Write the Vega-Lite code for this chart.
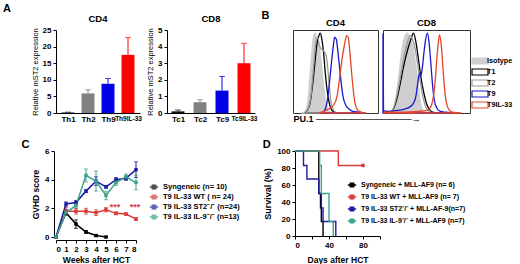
{
 "$schema": "https://vega.github.io/schema/vega-lite/v6.json",
 "padding": {"left": 3, "top": 3, "right": 0, "bottom": 0},
 "config": {
  "font": "Liberation Sans",
  "view": {"stroke": null},
  "axis": {"labelFontWeight": "bold", "titleFontWeight": "bold", "labelColor": "#000", "titleColor": "#000", "domainColor": "#000", "tickColor": "#000", "grid": false, "labelFontSize": 8, "titleFontSize": 8, "tickSize": 3, "labelPadding": 2},
  "title": {"fontSize": 9.5, "fontWeight": "bold", "color": "#000", "offset": 3},
  "legend": {"labelFontWeight": "bold", "labelFontSize": 7.5, "labelColor": "#000"}
 },
 "resolve": {"scale": {"color": "independent"}},
 "spacing": 15,
 "vconcat": [
  {
   "title": {"text": "A", "anchor": "start", "fontSize": 11, "dx": -28, "offset": -4},
   "resolve": {"scale": {"color": "independent"}},
   "spacing": 4,
   "hconcat": [
    {
     "title": "CD4",
     "width": 84, "height": 83,
     "data": {"values": [
      {"cell": "Th1", "v": 0.15, "hi": 0.25},
      {"cell": "Th2", "v": 5.9, "hi": 7.0},
      {"cell": "Th9", "v": 8.8, "hi": 10.4},
      {"cell": "Th9IL-33", "v": 17.5, "hi": 22.7}
     ]},
     "encoding": {
      "x": {"field": "cell", "type": "nominal", "sort": null, "scale": {"type": "point", "padding": 0.6}, "axis": {"title": null, "labelAngle": 0, "ticks": false, "labelOverlap": false, "labelFontSize": {"condition": {"test": "datum.value === 'Th9IL-33'", "value": 6.5}, "value": 8}}},
      "y": {"field": "v", "type": "quantitative", "stack": null, "title": "Relative mST2 expression", "scale": {"domain": [0, 25]}, "axis": {"values": [0, 5, 10, 15, 20, 25], "labelOverlap": false, "titleFontWeight": "normal", "titleFontSize": 7.5, "titlePadding": 3}},
      "color": {"field": "cell", "type": "nominal", "scale": {"domain": ["Th1", "Th2", "Th9", "Th9IL-33"], "range": ["#111111", "#808080", "#0000e6", "#ff0000"]}, "legend": null}
     },
     "layer": [
      {"mark": {"type": "bar", "size": 13}},
      {"mark": "rule", "encoding": {"y2": {"field": "hi"}}},
      {"mark": {"type": "tick", "orient": "horizontal", "size": 6, "thickness": 1}, "encoding": {"y": {"field": "hi", "type": "quantitative", "stack": null, "title": "Relative mST2 expression", "axis": {"values": [0, 5, 10, 15, 20, 25], "labelOverlap": false, "titleFontWeight": "normal", "titleFontSize": 7.5, "titlePadding": 3}}}}
     ]
    },
    {
     "title": "CD8",
     "width": 88, "height": 83,
     "data": {"values": [
      {"cell": "Tc1", "v": 0.1, "hi": 0.18},
      {"cell": "Tc2", "v": 0.65, "hi": 0.8},
      {"cell": "Tc9", "v": 1.35, "hi": 2.2},
      {"cell": "Tc9IL-33", "v": 3.0, "hi": 4.2}
     ]},
     "encoding": {
      "x": {"field": "cell", "type": "nominal", "sort": null, "scale": {"type": "point", "padding": 0.5}, "axis": {"title": null, "labelAngle": 0, "ticks": false, "labelOverlap": false, "labelFontSize": {"condition": {"test": "datum.value === 'Tc9IL-33'", "value": 6.5}, "value": 8}}},
      "y": {"field": "v", "type": "quantitative", "stack": null, "title": "Relative mST2 expression", "scale": {"domain": [0, 5]}, "axis": {"values": [0, 1, 2, 3, 4, 5], "labelOverlap": false, "titleFontWeight": "normal", "titleFontSize": 7.5, "titlePadding": 3}},
      "color": {"field": "cell", "type": "nominal", "scale": {"domain": ["Tc1", "Tc2", "Tc9", "Tc9IL-33"], "range": ["#111111", "#808080", "#0000e6", "#ff0000"]}, "legend": null}
     },
     "layer": [
      {"mark": {"type": "bar", "size": 13}},
      {"mark": "rule", "encoding": {"y2": {"field": "hi"}}},
      {"mark": {"type": "tick", "orient": "horizontal", "size": 6, "thickness": 1}, "encoding": {"y": {"field": "hi", "type": "quantitative", "stack": null, "title": "Relative mST2 expression", "axis": {"values": [0, 1, 2, 3, 4, 5], "labelOverlap": false, "titleFontWeight": "normal", "titleFontSize": 7.5, "titlePadding": 3}}}}
     ]
    },
    {
     "title": {"text": "B", "anchor": "start", "fontSize": 11, "dx": -31, "offset": -4},
     "bounds": "flush",
     "spacing": 5,
     "hconcat": [
      {
       "title": "CD4",
       "width": 85, "height": 83,
       "view": {"stroke": "#333", "strokeWidth": 1},
       "data": {"values": [
        {"s":"Isotype","x":10,"y":0},{"s":"Isotype","x":15,"y":3},{"s":"Isotype","x":18,"y":20},{"s":"Isotype","x":21,"y":60},{"s":"Isotype","x":24,"y":95},{"s":"Isotype","x":26,"y":100},{"s":"Isotype","x":28,"y":92},{"s":"Isotype","x":30,"y":85},{"s":"Isotype","x":32,"y":75},{"s":"Isotype","x":34,"y":55},{"s":"Isotype","x":36,"y":35},{"s":"Isotype","x":38,"y":18},{"s":"Isotype","x":40,"y":8},{"s":"Isotype","x":43,"y":2},{"s":"Isotype","x":48,"y":0},
        {"s":"T1","x":14,"y":0},{"s":"T1","x":17,"y":3},{"s":"T1","x":20,"y":12},{"s":"T1","x":23,"y":35},{"s":"T1","x":26,"y":65},{"s":"T1","x":28,"y":85},{"s":"T1","x":30,"y":95},{"s":"T1","x":32,"y":100},{"s":"T1","x":34,"y":92},{"s":"T1","x":36,"y":75},{"s":"T1","x":38,"y":50},{"s":"T1","x":40,"y":30},{"s":"T1","x":42,"y":16},{"s":"T1","x":44,"y":7},{"s":"T1","x":47,"y":2},{"s":"T1","x":52,"y":0},
        {"s":"T2","x":15,"y":0},{"s":"T2","x":18,"y":5},{"s":"T2","x":21,"y":20},{"s":"T2","x":24,"y":55},{"s":"T2","x":27,"y":90},{"s":"T2","x":29,"y":95},{"s":"T2","x":31,"y":85},{"s":"T2","x":33,"y":80},{"s":"T2","x":36,"y":78},{"s":"T2","x":39,"y":72},{"s":"T2","x":41,"y":55},{"s":"T2","x":43,"y":30},{"s":"T2","x":45,"y":12},{"s":"T2","x":48,"y":3},{"s":"T2","x":52,"y":0},
        {"s":"T9","x":34,"y":0},{"s":"T9","x":38,"y":5},{"s":"T9","x":41,"y":20},{"s":"T9","x":44,"y":50},{"s":"T9","x":47,"y":80},{"s":"T9","x":49,"y":95},{"s":"T9","x":51,"y":92},{"s":"T9","x":53,"y":75},{"s":"T9","x":55,"y":55},{"s":"T9","x":57,"y":35},{"s":"T9","x":59,"y":20},{"s":"T9","x":62,"y":10},{"s":"T9","x":66,"y":5},{"s":"T9","x":70,"y":2},{"s":"T9","x":78,"y":1},{"s":"T9","x":85,"y":0},
        {"s":"T9IL-33","x":30,"y":0},{"s":"T9IL-33","x":36,"y":2},{"s":"T9IL-33","x":42,"y":5},{"s":"T9IL-33","x":48,"y":10},{"s":"T9IL-33","x":52,"y":22},{"s":"T9IL-33","x":55,"y":45},{"s":"T9IL-33","x":58,"y":70},{"s":"T9IL-33","x":61,"y":88},{"s":"T9IL-33","x":63,"y":97},{"s":"T9IL-33","x":65,"y":95},{"s":"T9IL-33","x":67,"y":75},{"s":"T9IL-33","x":69,"y":50},{"s":"T9IL-33","x":71,"y":28},{"s":"T9IL-33","x":73,"y":12},{"s":"T9IL-33","x":76,"y":4},{"s":"T9IL-33","x":80,"y":1},{"s":"T9IL-33","x":86,"y":0}
       ]},
       "mark": {"type": "area", "interpolate": "monotone", "strokeWidth": 1.3, "fillOpacity": 1},
       "encoding": {
        "x": {"field": "x", "type": "quantitative", "scale": {"domain": [0, 100], "nice": false}, "axis": {"title": "PU.1 ───────────────→", "titleAnchor": "start", "labels": false, "ticks": false, "domain": false, "titlePadding": 1, "titleFontSize": 9}},
        "y": {"field": "y", "type": "quantitative", "stack": null, "scale": {"domain": [0, 104], "nice": false}, "axis": null},
        "fill": {"field": "s", "type": "nominal", "scale": {"domain": ["Isotype", "T1", "T2", "T9", "T9IL-33"], "range": ["#cfcfcf", "transparent", "transparent", "transparent", "transparent"]}, "legend": {"title": null, "orient": "none", "legendX": 419, "legendY": 26, "symbolType": "M-2,-0.75H2V0.75H-2Z", "symbolSize": 64, "symbolStrokeWidth": 1.2, "labelFontSize": 7.2, "rowPadding": -2.7, "labelOffset": 2}},
        "stroke": {"field": "s", "type": "nominal", "scale": {"domain": ["Isotype", "T1", "T2", "T9", "T9IL-33"], "range": ["#cfcfcf", "#000000", "#9a9a9a", "#1a1acc", "#e8442a"]}, "legend": {"title": null, "orient": "none", "legendX": 419, "legendY": 26, "symbolType": "M-2,-0.75H2V0.75H-2Z", "symbolSize": 64, "symbolStrokeWidth": 1.2, "labelFontSize": 7.2, "rowPadding": -2.7, "labelOffset": 2}}
       }
      },
      {
       "title": "CD8",
       "width": 87, "height": 83,
       "view": {"stroke": "#333", "strokeWidth": 1},
       "data": {"values": [
        {"s":"Isotype","x":10,"y":0},{"s":"Isotype","x":13,"y":8},{"s":"Isotype","x":16,"y":28},{"s":"Isotype","x":19,"y":55},{"s":"Isotype","x":22,"y":80},{"s":"Isotype","x":25,"y":95},{"s":"Isotype","x":28,"y":100},{"s":"Isotype","x":31,"y":93},{"s":"Isotype","x":34,"y":85},{"s":"Isotype","x":37,"y":65},{"s":"Isotype","x":40,"y":40},{"s":"Isotype","x":42,"y":20},{"s":"Isotype","x":44,"y":8},{"s":"Isotype","x":47,"y":2},{"s":"Isotype","x":52,"y":0},
        {"s":"T1","x":8,"y":0},{"s":"T1","x":12,"y":5},{"s":"T1","x":16,"y":18},{"s":"T1","x":20,"y":38},{"s":"T1","x":24,"y":60},{"s":"T1","x":28,"y":78},{"s":"T1","x":32,"y":92},{"s":"T1","x":35,"y":100},{"s":"T1","x":38,"y":88},{"s":"T1","x":41,"y":65},{"s":"T1","x":44,"y":42},{"s":"T1","x":47,"y":25},{"s":"T1","x":50,"y":12},{"s":"T1","x":53,"y":5},{"s":"T1","x":57,"y":1},{"s":"T1","x":62,"y":0},
        {"s":"T2","x":8,"y":0},{"s":"T2","x":12,"y":6},{"s":"T2","x":16,"y":22},{"s":"T2","x":20,"y":45},{"s":"T2","x":24,"y":70},{"s":"T2","x":28,"y":88},{"s":"T2","x":31,"y":97},{"s":"T2","x":34,"y":92},{"s":"T2","x":37,"y":80},{"s":"T2","x":40,"y":60},{"s":"T2","x":43,"y":38},{"s":"T2","x":46,"y":20},{"s":"T2","x":49,"y":8},{"s":"T2","x":53,"y":2},{"s":"T2","x":58,"y":0},
        {"s":"T9","x":0,"y":100},{"s":"T9","x":0.6,"y":3},{"s":"T9","x":5,"y":2},{"s":"T9","x":15,"y":3},{"s":"T9","x":25,"y":5},{"s":"T9","x":30,"y":7},{"s":"T9","x":35,"y":12},{"s":"T9","x":38,"y":22},{"s":"T9","x":40,"y":38},{"s":"T9","x":42,"y":50},{"s":"T9","x":43.5,"y":47},{"s":"T9","x":45,"y":55},{"s":"T9","x":47,"y":75},{"s":"T9","x":49,"y":92},{"s":"T9","x":51,"y":100},{"s":"T9","x":53,"y":88},{"s":"T9","x":55,"y":62},{"s":"T9","x":57,"y":35},{"s":"T9","x":59,"y":16},{"s":"T9","x":62,"y":6},{"s":"T9","x":66,"y":2},{"s":"T9","x":72,"y":1},{"s":"T9","x":80,"y":0},
        {"s":"T9IL-33","x":1,"y":1},{"s":"T9IL-33","x":20,"y":1},{"s":"T9IL-33","x":40,"y":2},{"s":"T9IL-33","x":50,"y":3},{"s":"T9IL-33","x":54,"y":6},{"s":"T9IL-33","x":57,"y":15},{"s":"T9IL-33","x":60,"y":40},{"s":"T9IL-33","x":62,"y":70},{"s":"T9IL-33","x":64,"y":92},{"s":"T9IL-33","x":65,"y":98},{"s":"T9IL-33","x":67,"y":85},{"s":"T9IL-33","x":69,"y":55},{"s":"T9IL-33","x":71,"y":28},{"s":"T9IL-33","x":73,"y":12},{"s":"T9IL-33","x":76,"y":4},{"s":"T9IL-33","x":80,"y":1},{"s":"T9IL-33","x":90,"y":0}
       ]},
       "mark": {"type": "area", "interpolate": "monotone", "strokeWidth": 1.3, "fillOpacity": 1},
       "encoding": {
        "x": {"field": "x", "type": "quantitative", "scale": {"domain": [0, 100], "nice": false}, "axis": null},
        "y": {"field": "y", "type": "quantitative", "stack": null, "scale": {"domain": [0, 104], "nice": false}, "axis": null},
        "fill": {"field": "s", "type": "nominal"},
        "stroke": {"field": "s", "type": "nominal"}
       }
      }
     ]
    }
   ]
  },
  {
   "resolve": {"scale": {"color": "independent"}},
   "spacing": 22,
   "hconcat": [
    {
     "title": {"text": "C", "anchor": "start", "fontSize": 11, "dx": -10, "offset": -3},
     "width": 80, "height": 86,
     "data": {"values": [
      {"g":"Syngeneic (n= 10)","w":0,"m":0,"lo":0,"hi":0},{"g":"Syngeneic (n= 10)","w":1,"m":1.7,"lo":1.5,"hi":1.9},{"g":"Syngeneic (n= 10)","w":2,"m":0.9,"lo":0.6,"hi":1.2},{"g":"Syngeneic (n= 10)","w":3,"m":0.35,"lo":0.25,"hi":0.45},{"g":"Syngeneic (n= 10)","w":4,"m":0.1,"lo":0.05,"hi":0.15},{"g":"Syngeneic (n= 10)","w":5,"m":0,"lo":0,"hi":0},
      {"g":"T9 IL-33 WT ( n= 24)","w":0,"m":0,"lo":0,"hi":0},{"g":"T9 IL-33 WT ( n= 24)","w":1,"m":1.8,"lo":1.55,"hi":2.05},{"g":"T9 IL-33 WT ( n= 24)","w":2,"m":1.8,"lo":1.6,"hi":2.0},{"g":"T9 IL-33 WT ( n= 24)","w":3,"m":1.8,"lo":1.6,"hi":2.0},{"g":"T9 IL-33 WT ( n= 24)","w":4,"m":1.7,"lo":1.5,"hi":1.9},{"g":"T9 IL-33 WT ( n= 24)","w":5,"m":1.9,"lo":1.75,"hi":2.05},{"g":"T9 IL-33 WT ( n= 24)","w":6,"m":1.65,"lo":1.55,"hi":1.75},{"g":"T9 IL-33 WT ( n= 24)","w":7,"m":1.6,"lo":1.5,"hi":1.7},{"g":"T9 IL-33 WT ( n= 24)","w":8,"m":1.25,"lo":1.15,"hi":1.35},
      {"g":"T9 IL-33 ST2⁻/⁻ (n=24)","w":0,"m":0,"lo":0,"hi":0},{"g":"T9 IL-33 ST2⁻/⁻ (n=24)","w":1,"m":2.3,"lo":2.15,"hi":2.45},{"g":"T9 IL-33 ST2⁻/⁻ (n=24)","w":2,"m":2.4,"lo":2.25,"hi":2.55},{"g":"T9 IL-33 ST2⁻/⁻ (n=24)","w":3,"m":3.2,"lo":3.1,"hi":3.3},{"g":"T9 IL-33 ST2⁻/⁻ (n=24)","w":4,"m":3.9,"lo":3.6,"hi":4.2},{"g":"T9 IL-33 ST2⁻/⁻ (n=24)","w":5,"m":3.5,"lo":3.4,"hi":3.6},{"g":"T9 IL-33 ST2⁻/⁻ (n=24)","w":6,"m":4.0,"lo":3.85,"hi":4.15},{"g":"T9 IL-33 ST2⁻/⁻ (n=24)","w":7,"m":4.1,"lo":3.95,"hi":4.25},{"g":"T9 IL-33 ST2⁻/⁻ (n=24)","w":8,"m":4.7,"lo":4.15,"hi":5.25},
      {"g":"T9 IL-33 IL-9⁻/⁻ (n=13)","w":0,"m":0,"lo":0,"hi":0},{"g":"T9 IL-33 IL-9⁻/⁻ (n=13)","w":1,"m":1.7,"lo":1.5,"hi":1.9},{"g":"T9 IL-33 IL-9⁻/⁻ (n=13)","w":2,"m":2.2,"lo":2.0,"hi":2.4},{"g":"T9 IL-33 IL-9⁻/⁻ (n=13)","w":3,"m":4.3,"lo":3.85,"hi":4.75},{"g":"T9 IL-33 IL-9⁻/⁻ (n=13)","w":4,"m":3.9,"lo":3.2,"hi":4.6},{"g":"T9 IL-33 IL-9⁻/⁻ (n=13)","w":5,"m":2.9,"lo":2.6,"hi":3.2},{"g":"T9 IL-33 IL-9⁻/⁻ (n=13)","w":6,"m":3.8,"lo":3.6,"hi":4.0},{"g":"T9 IL-33 IL-9⁻/⁻ (n=13)","w":7,"m":4.2,"lo":4.0,"hi":4.4},{"g":"T9 IL-33 IL-9⁻/⁻ (n=13)","w":8,"m":3.8,"lo":3.3,"hi":4.3}
     ]},
     "encoding": {
      "x": {"field": "w", "type": "quantitative", "scale": {"domain": [0, 8], "nice": false}, "axis": {"values": [0,1,2,3,4,5,6,7,8], "title": "Weeks after HCT", "offset": 3, "titleFontSize": 8.5, "titlePadding": 2}},
      "y": {"field": "m", "type": "quantitative", "title": "GVHD score", "scale": {"domain": [0, 6]}, "axis": {"values": [0, 2, 4, 6], "titleFontSize": 8.5, "offset": 2, "labelOverlap": false}},
      "color": {"field": "g", "type": "nominal", "scale": {"domain": ["Syngeneic (n= 10)", "T9 IL-33 WT ( n= 24)", "T9 IL-33 ST2⁻/⁻ (n=24)", "T9 IL-33 IL-9⁻/⁻ (n=13)"], "range": ["#000000", "#d93a3a", "#1c1ca0", "#3aa38a"]}, "legend": {"title": null, "orient": "none", "legendX": 93, "legendY": 31, "symbolType": "M-1,0H1M-0.4,-0.4H0.4V0.4H-0.4Z", "symbolSize": 70, "symbolStrokeWidth": 1.5, "rowPadding": 0, "labelFontSize": 7.5}}
     },
     "layer": [
      {"mark": {"type": "rule"}, "encoding": {"y": {"field": "lo", "type": "quantitative", "title": "GVHD score", "axis": {"values": [0, 2, 4, 6], "titleFontSize": 8.5, "offset": 2, "labelOverlap": false}}, "y2": {"field": "hi"}}},
      {"mark": {"type": "tick", "orient": "horizontal", "size": 4, "thickness": 1}, "encoding": {"y": {"field": "lo", "type": "quantitative", "title": "GVHD score", "axis": {"values": [0, 2, 4, 6], "titleFontSize": 8.5, "offset": 2, "labelOverlap": false}}}},
      {"mark": {"type": "tick", "orient": "horizontal", "size": 4, "thickness": 1}, "encoding": {"y": {"field": "hi", "type": "quantitative", "title": "GVHD score", "axis": {"values": [0, 2, 4, 6], "titleFontSize": 8.5, "offset": 2, "labelOverlap": false}}}},
      {"mark": {"type": "line", "strokeWidth": 1.5}},
      {"mark": {"type": "point", "shape": "square", "filled": true, "size": 12, "opacity": 1}},
      {"data": {"values": [{"w": 6, "t": 2.12}, {"w": 8, "t": 2.12}]}, "mark": {"type": "text", "text": "***", "fontSize": 9, "fontWeight": "bold", "baseline": "middle", "dx": -1}, "encoding": {"y": {"field": "t", "type": "quantitative", "title": "GVHD score", "axis": {"values": [0, 2, 4, 6], "titleFontSize": 8.5, "offset": 2, "labelOverlap": false}}, "color": {"value": "#d93a3a"}}}
     ]
    },
    {
     "title": {"text": "D", "anchor": "start", "fontSize": 11, "dx": -1, "offset": -3},
     "width": 85, "height": 85,
     "data": {"values": [
      {"g":"Syngeneic + MLL-AF9 (n= 6)","d":0,"s":100},{"g":"Syngeneic + MLL-AF9 (n= 6)","d":28,"s":50},{"g":"Syngeneic + MLL-AF9 (n= 6)","d":30,"s":33},{"g":"Syngeneic + MLL-AF9 (n= 6)","d":31,"s":17},{"g":"Syngeneic + MLL-AF9 (n= 6)","d":33,"s":0},
      {"g":"T9 IL-33 WT + MLL-AF9 (n= 7)","d":0,"s":100},{"g":"T9 IL-33 WT + MLL-AF9 (n= 7)","d":51,"s":83},{"g":"T9 IL-33 WT + MLL-AF9 (n= 7)","d":80,"s":83},
      {"g":"T9 IL-33 ST2⁻/⁻ + MLL-AF-9(n=7)","d":0,"s":100},{"g":"T9 IL-33 ST2⁻/⁻ + MLL-AF-9(n=7)","d":10,"s":83},{"g":"T9 IL-33 ST2⁻/⁻ + MLL-AF-9(n=7)","d":14,"s":67},{"g":"T9 IL-33 ST2⁻/⁻ + MLL-AF-9(n=7)","d":28,"s":50},{"g":"T9 IL-33 ST2⁻/⁻ + MLL-AF-9(n=7)","d":31,"s":33},{"g":"T9 IL-33 ST2⁻/⁻ + MLL-AF-9(n=7)","d":33,"s":17},{"g":"T9 IL-33 ST2⁻/⁻ + MLL-AF-9(n=7)","d":48,"s":0},
      {"g":"T9 IL-33 IL-9⁻/⁻ + MLL-AF9 (n=7)","d":0,"s":100},{"g":"T9 IL-33 IL-9⁻/⁻ + MLL-AF9 (n=7)","d":29,"s":83},{"g":"T9 IL-33 IL-9⁻/⁻ + MLL-AF9 (n=7)","d":31,"s":50},{"g":"T9 IL-33 IL-9⁻/⁻ + MLL-AF9 (n=7)","d":40,"s":17},{"g":"T9 IL-33 IL-9⁻/⁻ + MLL-AF9 (n=7)","d":45,"s":0}
     ]},
     "encoding": {
      "x": {"field": "d", "type": "quantitative", "title": "Days after HCT", "scale": {"domain": [0, 100], "nice": false}, "axis": {"values": [0, 20, 40, 60, 80, 100], "titleFontSize": 8.5, "titlePadding": 6}},
      "y": {"field": "s", "type": "quantitative", "title": "Survival (%)", "scale": {"domain": [0, 100], "nice": false}, "axis": {"values": [0, 20, 40, 60, 80, 100], "titleFontSize": 9}},
      "color": {"field": "g", "type": "nominal", "scale": {"domain": ["Syngeneic + MLL-AF9 (n= 6)", "T9 IL-33 WT + MLL-AF9 (n= 7)", "T9 IL-33 ST2⁻/⁻ + MLL-AF-9(n=7)", "T9 IL-33 IL-9⁻/⁻ + MLL-AF9 (n=7)"], "range": ["#000000", "#d93a3a", "#1c1ca0", "#3aa38a"]}, "legend": {"title": null, "orient": "none", "legendX": 52, "legendY": 29, "symbolType": "M-1,0H1M-0.4,-0.4H0.4V0.4H-0.4Z", "symbolSize": 70, "symbolStrokeWidth": 1.5, "rowPadding": 2, "labelFontSize": 7}}
     },
     "layer": [
      {"mark": {"type": "line", "interpolate": "step-after", "strokeWidth": 1.4}},
      {"data": {"values": [{"g": "T9 IL-33 WT + MLL-AF9 (n= 7)", "d": 80, "s": 83}]}, "mark": {"type": "point", "shape": "square", "filled": true, "size": 12, "opacity": 1}}
     ]
    }
   ]
  }
 ]
}
